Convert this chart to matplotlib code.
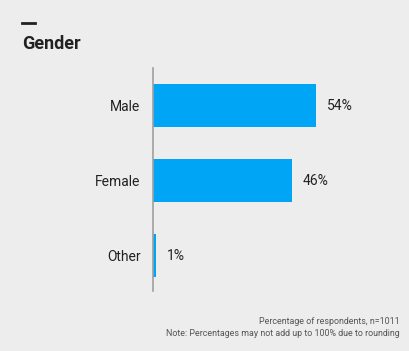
import matplotlib.pyplot as plt
from matplotlib.lines import Line2D

plt.rcParams['font.family'] = ['Roboto', 'DejaVu Sans']

# data
categories = ["Male", "Female", "Other"]
shares = [54, 46, 1]
value_labels = ["54%", "46%", "1%"]

bg = "#ededed"
bar_color = "#00a5f5"

fig = plt.figure(figsize=(4.1, 3.51), dpi=100, facecolor=bg)
W, H = 410, 351

# axes placed in pixel terms: left edge at 153, top 68, bottom 291
left, right, top, bottom = 153, 400, 68, 291
ax = fig.add_axes([left / W, 1 - bottom / H, (right - left) / W, (bottom - top) / H])
ax.set_facecolor(bg)

ypos = list(range(len(categories)))
ax.barh(ypos, shares, height=0.573, color=bar_color)
ax.set_ylim(2.47, -0.5)
ax.set_xlim(0, (right - left) / 3.02)

for y, v, lab in zip(ypos, shares, value_labels):
    ax.annotate(lab, (v, y), xytext=(8, 0), textcoords="offset points",
                va="center", ha="left", fontsize=10, color="#222222")

ax.set_yticks(ypos)
ax.set_yticklabels(categories, fontsize=10, color="#222222")
ax.tick_params(axis="y", length=0, pad=9)
ax.set_xticks([])
for s in ["top", "right", "bottom"]:
    ax.spines[s].set_visible(False)
ax.spines["left"].set_color("#a0a0a0")
ax.spines["left"].set_linewidth(1.2)

# title with small dash above
fig.add_artist(Line2D([22 / W, 35 / W], [1 - 22.5 / H, 1 - 22.5 / H],
                      color="#222222", linewidth=2))
fig.text(22 / W, 1 - 44 / H, "Gender", fontsize=13, fontweight="bold",
         color="#222222", ha="left", va="center")

fig.text(400 / W, 1 - 322 / H, "Percentage of respondents, n=1011",
         fontsize=6.4, color="#555555", ha="right", va="center")
fig.text(400 / W, 1 - 334 / H, "Note: Percentages may not add up to 100% due to rounding",
         fontsize=6.4, color="#555555", ha="right", va="center")

fig.savefig("out.png", dpi=100, facecolor=bg)
